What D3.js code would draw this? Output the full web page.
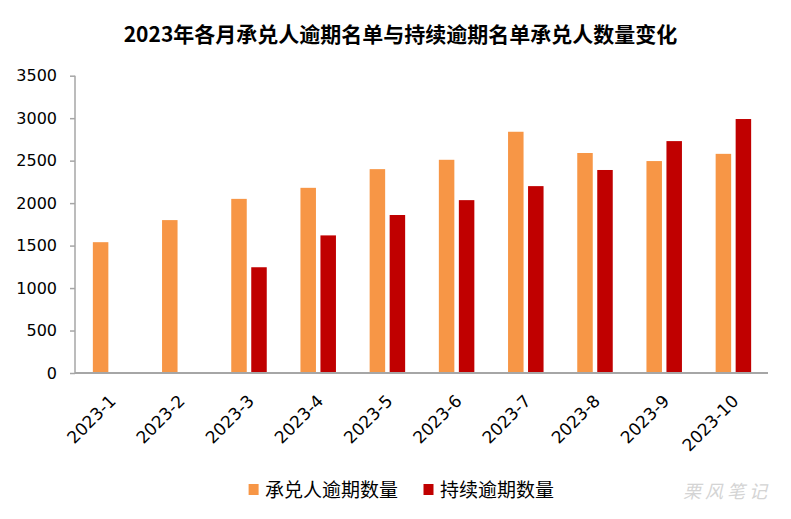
<!DOCTYPE html>
<html><head><meta charset="utf-8">
<script src="https://cdn.jsdelivr.net/npm/d3@7/dist/d3.min.js"></script>
<style>body{margin:0;background:#fff}svg{display:block}</style>
</head><body>
<svg id="c" width="791" height="519"></svg>
<script>
const categories = ["2023-1","2023-2","2023-3","2023-4","2023-5","2023-6","2023-7","2023-8","2023-9","2023-10"];
const acceptorOverdue = [1540,1800,2050,2180,2400,2510,2840,2590,2495,2580];
const continuedOverdue = [null,null,1245,1620,1860,2035,2200,2390,2730,2990];
const yTicks = [0,500,1000,1500,2000,2500,3000,3500];
const seriesNames = ["承兑人逾期数量","持续逾期数量"];
const colors = ["#F79646","#C00000"];
const title = "2023年各月承兑人逾期名单与持续逾期名单承兑人数量变化";

const svg = d3.select("#c");
const x0 = 76, x1 = 768, yTop = 75.7, yBot = 373;
const x = d3.scaleBand().domain(categories).range([x0, x1]);
const y = d3.scaleLinear().domain([0,3500]).range([yBot, yTop]);
const barW = 15.5, gap = 4.5;

svg.append("text").attr("x", 400.5).attr("y", 42).attr("text-anchor","middle")
  .attr("font-family","'Noto Sans CJK SC'").attr("font-weight","bold").attr("font-size",21)
  .attr("fill","#000").text(title);

// Y axis
const yAxis = svg.append("g").attr("transform",`translate(75,0)`)
  .call(d3.axisLeft(y).tickValues(yTicks).tickSize(5).tickPadding(13).tickFormat(d3.format("d")));
yAxis.select(".domain").attr("stroke","#a6a6a6").attr("stroke-width",1.5).attr("d",`M0,${yTop}V${yBot}`);
yAxis.selectAll(".tick line").attr("stroke","#a6a6a6").attr("stroke-width",1.5);
yAxis.selectAll(".tick text").attr("font-family","'DejaVu Sans'").attr("font-size",16).attr("fill","#000");

// bars
const series = [acceptorOverdue, continuedOverdue];
series.forEach((vals, si) => {
  svg.append("g").selectAll("rect").data(categories.map((c,i)=>({c, v: vals[i]})).filter(d=>d.v!=null))
    .enter().append("rect")
    .attr("x", d => x(d.c) + x.bandwidth()/2 - barW - gap/2 + si*(barW+gap))
    .attr("y", d => y(d.v))
    .attr("width", barW)
    .attr("height", d => yBot - y(d.v))
    .attr("fill", colors[si]);
});

// X axis
const xAxis = svg.append("g").attr("transform",`translate(0,${yBot})`)
  .call(d3.axisBottom(x).tickSize(0).tickPadding(0));
xAxis.select(".domain").attr("stroke","#a6a6a6").attr("stroke-width",2).attr("d",`M75,0H${x1}`);
xAxis.selectAll(".tick text")
  .attr("font-family","'DejaVu Sans'").attr("font-size",17).attr("fill","#000")
  .attr("text-anchor","end").attr("dy","0.35em")
  .attr("transform","translate(2,25) rotate(-45)").attr("y",0).attr("x",0);

// legend
const legX = [248.6, 423.5];
seriesNames.forEach((n,i)=>{
  svg.append("rect").attr("x",legX[i]).attr("y",484).attr("width",10).attr("height",11).attr("fill",colors[i]);
  svg.append("text").attr("x",legX[i]+16.5).attr("y",496.5)
    .attr("font-family","'Noto Sans CJK SC'").attr("font-size",19).attr("fill","#000").text(n);
});

// watermark
svg.append("text").attr("x",683).attr("y",498).attr("font-family","'Noto Sans CJK SC'")
  .attr("font-size",18).attr("letter-spacing",4).attr("font-style","italic")
  .attr("fill","#d4d4d4").text("栗风笔记");
</script>
</body></html>
